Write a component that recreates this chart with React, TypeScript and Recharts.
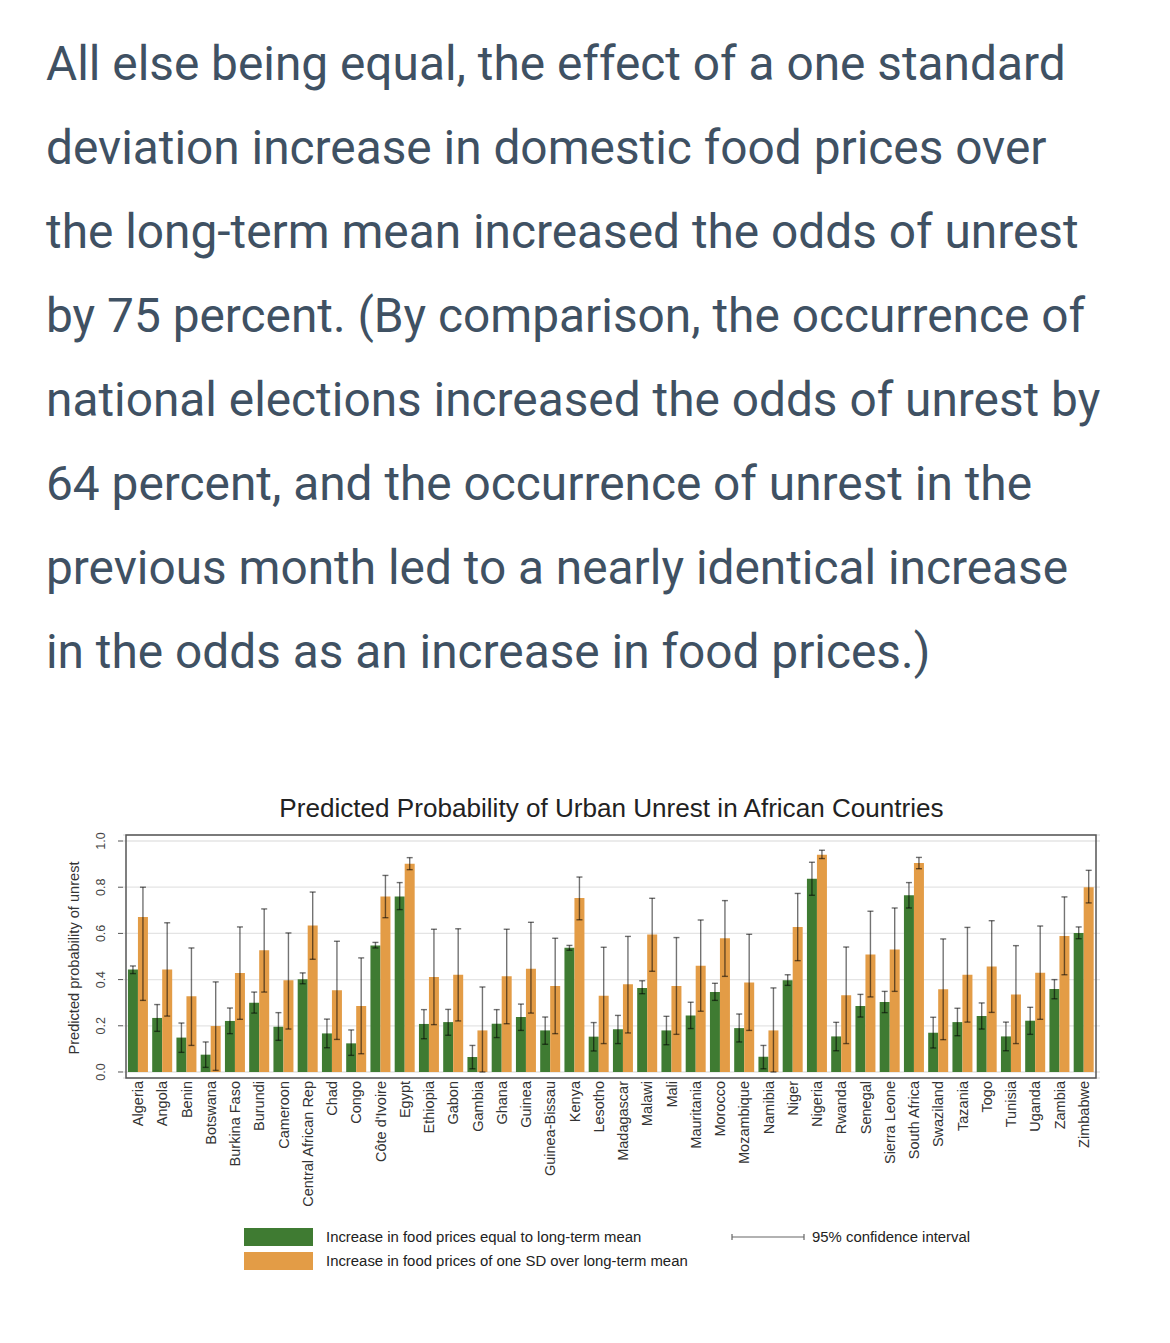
import { BarChart, Bar, XAxis, YAxis, CartesianGrid, ErrorBar, ReferenceArea } from "recharts";

const countries = [
  "Algeria", "Angola", "Benin", "Botswana", "Burkina Faso", "Burundi", "Cameroon",
  "Central African Rep", "Chad", "Congo", "Côte d'Ivoire", "Egypt", "Ethiopia", "Gabon",
  "Gambia", "Ghana", "Guinea", "Guinea-Bissau", "Kenya", "Lesotho", "Madagascar", "Malawi",
  "Mali", "Mauritania", "Morocco", "Mozambique", "Namibia", "Niger", "Nigeria", "Rwanda",
  "Senegal", "Sierra Leone", "South Africa", "Swaziland", "Tazania", "Togo", "Tunisia",
  "Uganda", "Zambia", "Zimbabwe",
];

// probability at long-term mean (green)
const meanProb = [
  0.444, 0.234, 0.149, 0.075, 0.221, 0.3, 0.196, 0.401, 0.167, 0.124, 0.548, 0.76, 0.208, 0.216,
  0.065, 0.209, 0.238, 0.18, 0.538, 0.153, 0.185, 0.364, 0.18, 0.245, 0.346, 0.19, 0.066, 0.397,
  0.837, 0.154, 0.286, 0.303, 0.765, 0.17, 0.216, 0.242, 0.154, 0.222, 0.359, 0.602,
];
const meanLo = [
  0.426, 0.176, 0.085, 0.02, 0.166, 0.255, 0.137, 0.382, 0.105, 0.072, 0.537, 0.703, 0.144, 0.159,
  0.014, 0.149, 0.18, 0.12, 0.527, 0.091, 0.123, 0.339, 0.118, 0.188, 0.31, 0.13, 0.014, 0.375,
  0.765, 0.092, 0.238, 0.257, 0.71, 0.104, 0.157, 0.186, 0.092, 0.163, 0.317, 0.577,
];
const meanHi = [
  0.459, 0.292, 0.212, 0.13, 0.277, 0.346, 0.257, 0.429, 0.229, 0.182, 0.561, 0.82, 0.27, 0.271,
  0.115, 0.27, 0.294, 0.238, 0.548, 0.214, 0.245, 0.395, 0.241, 0.302, 0.384, 0.251, 0.115, 0.421,
  0.908, 0.215, 0.336, 0.349, 0.82, 0.237, 0.276, 0.299, 0.216, 0.28, 0.4, 0.628,
];

// probability at one SD over long-term mean (orange)
const sdProb = [
  0.671, 0.444, 0.328, 0.199, 0.429, 0.527, 0.397, 0.634, 0.354, 0.286, 0.76, 0.902, 0.411, 0.421,
  0.18, 0.414, 0.447, 0.372, 0.753, 0.33, 0.38, 0.595, 0.372, 0.46, 0.579, 0.387, 0.18, 0.628,
  0.941, 0.332, 0.509, 0.53, 0.905, 0.358, 0.421, 0.457, 0.335, 0.43, 0.589, 0.8,
];
const sdLo = [
  0.31, 0.242, 0.115, 0.007, 0.228, 0.346, 0.186, 0.488, 0.141, 0.079, 0.668, 0.876, 0.205, 0.221,
  0.0, 0.209, 0.255, 0.166, 0.659, 0.123, 0.169, 0.436, 0.163, 0.263, 0.414, 0.18, 0.0, 0.482,
  0.924, 0.123, 0.325, 0.349, 0.88, 0.14, 0.216, 0.258, 0.123, 0.228, 0.421, 0.732,
];
const sdHi = [
  0.8, 0.646, 0.537, 0.39, 0.628, 0.706, 0.602, 0.779, 0.566, 0.494, 0.851, 0.928, 0.618, 0.62,
  0.368, 0.618, 0.648, 0.579, 0.844, 0.54, 0.587, 0.752, 0.582, 0.658, 0.742, 0.596, 0.364, 0.773,
  0.96, 0.541, 0.696, 0.71, 0.929, 0.576, 0.626, 0.655, 0.547, 0.632, 0.758, 0.873,
];

const yTicks = [0, 0.2, 0.4, 0.6, 0.8, 1.0];

const paragraph = [
  "All else being equal, the effect of a one standard",
  "deviation increase in domestic food prices over",
  "the long-term mean increased the odds of unrest",
  "by 75 percent. (By comparison, the occurrence of",
  "national elections increased the odds of unrest by",
  "64 percent, and the occurrence of unrest in the",
  "previous month led to a nearly identical increase",
  "in the odds as an increase in food prices.)",
];

const GREEN = "#3f7b32";
const ORANGE = "#e39c46";
const CHART_FONT = "'Liberation Sans', Arial, sans-serif";

const rows = countries.map((c, i) => ({
  country: c,
  mean: meanProb[i],
  meanErr: [meanProb[i] - meanLo[i], meanHi[i] - meanProb[i]],
  sd: sdProb[i],
  sdErr: [sdProb[i] - sdLo[i], sdHi[i] - sdProb[i]],
}));

function CountryTick({ x, y, payload }: any) {
  const bx = x + 5;
  const by = y - 5;
  return (
    <text
      x={bx}
      y={by}
      transform={`rotate(-90 ${bx} ${by})`}
      textAnchor="end"
      fontSize={14.5}
      fill="#333"
      fontFamily={CHART_FONT}
    >
      {payload.value}
    </text>
  );
}

function ProbTick({ y, payload }: any) {
  const bx = 105;
  return (
    <text
      x={bx}
      y={y}
      transform={`rotate(-90 ${bx} ${y})`}
      textAnchor="middle"
      fontSize={12.5}
      fill="#444"
      fontFamily={CHART_FONT}
    >
      {payload.value.toFixed(1)}
    </text>
  );
}

export default function App() {
  return (
    <div style={{ position: "absolute", top: 0, left: 0, width: 1170, height: 1343, background: "#fff" }}>
      <div
        style={{
          position: "absolute",
          top: 22,
          left: 46,
          fontFamily: "Roboto, sans-serif",
          fontSize: 47.8,
          lineHeight: "84px",
          color: "#3f5163",
          whiteSpace: "nowrap",
        }}
      >
        {paragraph.map((line) => (
          <div key={line}>{line}</div>
        ))}
      </div>

      <div
        style={{
          position: "absolute",
          top: 793,
          left: 123,
          width: 977,
          textAlign: "center",
          fontFamily: CHART_FONT,
          fontSize: 26.1,
          lineHeight: "30px",
          color: "#222",
        }}
      >
        Predicted Probability of Urban Unrest in African Countries
      </div>

      <div style={{ position: "absolute", top: 780, left: 0 }}>
        <BarChart
          width={1170}
          height={430}
          data={rows}
          margin={{ top: 55, right: 70, bottom: 0, left: 0 }}
          barCategoryGap="8%"
          barGap={0}
        >
          <CartesianGrid horizontal vertical={false} stroke="#e4e4e4" strokeWidth={1.3} />
          <XAxis
            dataKey="country"
            interval={0}
            height={132}
            axisLine={false}
            tickLine={false}
            tick={<CountryTick />}
            padding={{ left: 3, right: 4 }}
          />
          <YAxis
            width={123}
            domain={[-0.026, 1.026]}
            ticks={yTicks}
            allowDataOverflow
            axisLine={false}
            tickLine={{ stroke: "#555" }}
            tickSize={5}
            tick={<ProbTick />}
            label={{
              content: () => (
                <text
                  x={79}
                  y={178}
                  transform="rotate(-90 79 178)"
                  textAnchor="middle"
                  fontSize={14.6}
                  fill="#333"
                  fontFamily={CHART_FONT}
                >
                  Predicted probability of unrest
                </text>
              ),
            }}
          />
          <Bar dataKey="mean" fill={GREEN} isAnimationActive={false}>
            <ErrorBar dataKey="meanErr" direction="y" width={3} stroke="#000" strokeOpacity={0.55} strokeWidth={1.4} isAnimationActive={false} />
          </Bar>
          <Bar dataKey="sd" fill={ORANGE} isAnimationActive={false}>
            <ErrorBar dataKey="sdErr" direction="y" width={3} stroke="#000" strokeOpacity={0.55} strokeWidth={1.4} isAnimationActive={false} />
          </Bar>
          <ReferenceArea y1={-0.026} y2={1.026} fill="none" stroke="#555" strokeWidth={1.5} ifOverflow="visible" />
        </BarChart>
      </div>

      <div style={{ position: "absolute", top: 1228, left: 244, fontFamily: CHART_FONT, fontSize: 14.9, color: "#222" }}>
        <div style={{ display: "flex", alignItems: "center", height: 18 }}>
          <div style={{ width: 69, height: 18, background: GREEN }} />
          <span style={{ marginLeft: 13 }}>Increase in food prices equal to long-term mean</span>
        </div>
        <div style={{ display: "flex", alignItems: "center", height: 18, marginTop: 6 }}>
          <div style={{ width: 69, height: 18, background: ORANGE }} />
          <span style={{ marginLeft: 13 }}>Increase in food prices of one SD over long-term mean</span>
        </div>
      </div>

      <div style={{ position: "absolute", top: 1228, left: 730, display: "flex", alignItems: "center", height: 18, fontFamily: CHART_FONT, fontSize: 14.9, color: "#222" }}>
        <svg width={76} height={10}>
          <line x1={2} y1={5} x2={74} y2={5} stroke="#666" strokeWidth={1.2} />
          <line x1={2} y1={2} x2={2} y2={8} stroke="#666" strokeWidth={1.2} />
          <line x1={74} y1={2} x2={74} y2={8} stroke="#666" strokeWidth={1.2} />
        </svg>
        <span style={{ marginLeft: 6 }}>95% confidence interval</span>
      </div>
    </div>
  );
}
